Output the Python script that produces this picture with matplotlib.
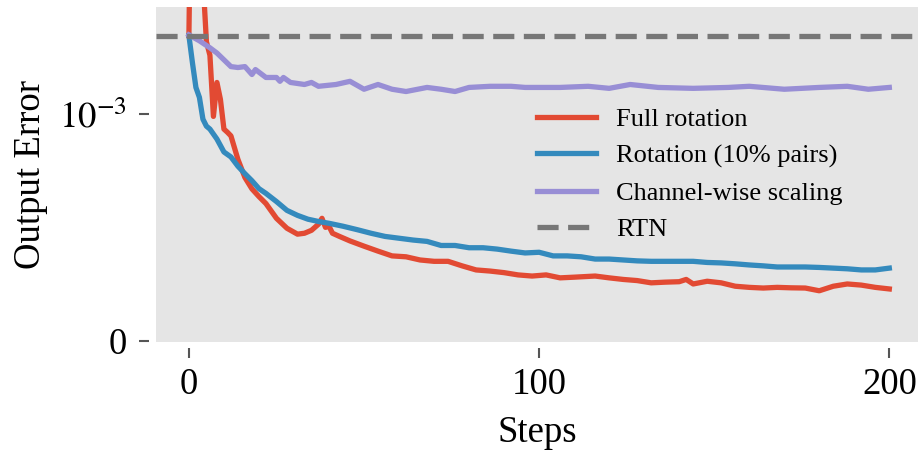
import matplotlib
matplotlib.use("Agg")
import matplotlib.pyplot as plt
import numpy as np

plt.rcParams['font.family'] = ['Liberation Serif', 'DejaVu Serif']
plt.rcParams['mathtext.fontset'] = 'stix'

# values, in units of 1e-3
steps_full = [0, 1, 2, 3, 4, 5, 6, 7, 8, 9, 10, 11, 12, 14, 16, 18, 20, 22, 25, 28, 31, 33, 35, 37,
              38, 39, 40, 41, 43, 46, 50, 54, 58, 62, 66, 70, 74, 78, 82, 86, 90, 94, 98, 102, 106,
              110, 116, 120, 124, 128, 132, 136, 140, 142, 144, 148, 152, 156, 160, 164, 168, 172,
              176, 180, 184, 188, 192, 196, 200]
err_full = [1.347, 2.5, 2.8, 2.5, 1.6, 1.32, 1.26, 0.99, 1.14, 1.065, 0.934, 0.92, 0.904, 0.80, 0.72,
            0.67, 0.636, 0.605, 0.54, 0.496, 0.47, 0.474, 0.487, 0.514, 0.54, 0.50, 0.505, 0.474,
            0.46, 0.44, 0.417, 0.395, 0.374, 0.37, 0.356, 0.35, 0.35, 0.33, 0.312, 0.307, 0.30,
            0.29, 0.285, 0.29, 0.277, 0.28, 0.285, 0.277, 0.27, 0.265, 0.255, 0.258, 0.26, 0.27,
            0.25, 0.262, 0.255, 0.24, 0.235, 0.232, 0.235, 0.233, 0.232, 0.22, 0.24, 0.25, 0.245,
            0.235, 0.228]

steps_pairs = [0, 1, 2, 3, 4, 5, 6, 8, 10, 12, 14, 16, 18, 20, 22, 25, 28, 31, 34, 37, 40, 44, 48,
               52, 56, 60, 64, 68, 72, 76, 80, 84, 88, 92, 96, 100, 104, 108, 112, 116, 120, 124,
               128, 132, 136, 140, 144, 148, 152, 156, 160, 164, 168, 172, 176, 180, 184, 188, 192,
               196, 200]
err_pairs = [1.347, 1.228, 1.118, 1.074, 0.978, 0.947, 0.934, 0.89, 0.833, 0.811, 0.77, 0.737, 0.706,
             0.671, 0.65, 0.614, 0.575, 0.553, 0.536, 0.526, 0.518, 0.505, 0.49, 0.474, 0.46, 0.452,
             0.444, 0.438, 0.42, 0.42, 0.41, 0.41, 0.404, 0.395, 0.387, 0.39, 0.374, 0.374, 0.37,
             0.36, 0.36, 0.356, 0.352, 0.35, 0.35, 0.35, 0.35, 0.345, 0.343, 0.339, 0.334, 0.33,
             0.325, 0.325, 0.325, 0.323, 0.32, 0.317, 0.312, 0.312, 0.32]

steps_scale = [0, 3, 6, 8, 10, 12, 14, 16, 18, 19, 22, 25, 26, 27, 29, 33, 35, 37, 42, 46, 50, 54, 58,
               62, 68, 72, 76, 80, 86, 92, 96, 100, 106, 114, 120, 126, 134, 144, 154, 160, 170,
               180, 188, 194, 200]
err_scale = [1.35, 1.324, 1.293, 1.27, 1.24, 1.21, 1.206, 1.21, 1.175, 1.197, 1.162, 1.162, 1.145,
             1.162, 1.14, 1.131, 1.14, 1.123, 1.131, 1.145, 1.11, 1.131, 1.11, 1.10, 1.118, 1.11,
             1.10, 1.118, 1.123, 1.123, 1.118, 1.118, 1.118, 1.123, 1.114, 1.131, 1.118, 1.114,
             1.118, 1.123, 1.11, 1.118, 1.123, 1.11, 1.118]

rtn_err = 1.347

fig = plt.figure(figsize=(9.23, 4.55), dpi=100)
ax = fig.add_axes([0.169, 0.248, 0.826, 0.736])
ax.set_facecolor('#e5e5e5')

lw = 3.8
ax.plot(steps_full, np.array(err_full) * 1e-3, color='#E24A33', lw=lw, label='Full rotation')
ax.plot(steps_pairs, np.array(err_pairs) * 1e-3, color='#348ABD', lw=lw, label='Rotation (10% pairs)')
ax.plot(steps_scale, np.array(err_scale) * 1e-3, color='#988ED5', lw=lw, label='Channel-wise scaling')
ax.axhline(rtn_err * 1e-3, color='#777777', lw=lw, ls=(0, (4.0, 1.8)), label='RTN')

ax.set_xlim(-9.4, 208.3)
ax.set_ylim(-0.007e-3, 1.472e-3)
ax.set_xticks([0, 100, 200])
ax.set_yticks([0, 1e-3])
ax.set_yticklabels(['0', r'$10^{-3}$'])

for s in ax.spines.values():
    s.set_visible(False)
ax.spines['bottom'].set_position(('outward', 4))
ax.spines['left'].set_position(('outward', 5))
ax.tick_params(axis='both', length=7, width=1.5, color='#555555', labelsize=26.5)
ax.tick_params(axis='x', pad=7)
ax.tick_params(axis='y', pad=9)

ax.set_xlabel('Steps', fontsize=26.5, labelpad=10)
ax.set_ylabel('Output Error', fontsize=26.5, labelpad=8)

ax.legend(loc='upper left', bbox_to_anchor=(0.486, 0.732), frameon=False, fontsize=19,
          handlelength=2.25, labelspacing=0.5, handletextpad=0.75, borderaxespad=0)

fig.savefig('out.png', dpi=100)
